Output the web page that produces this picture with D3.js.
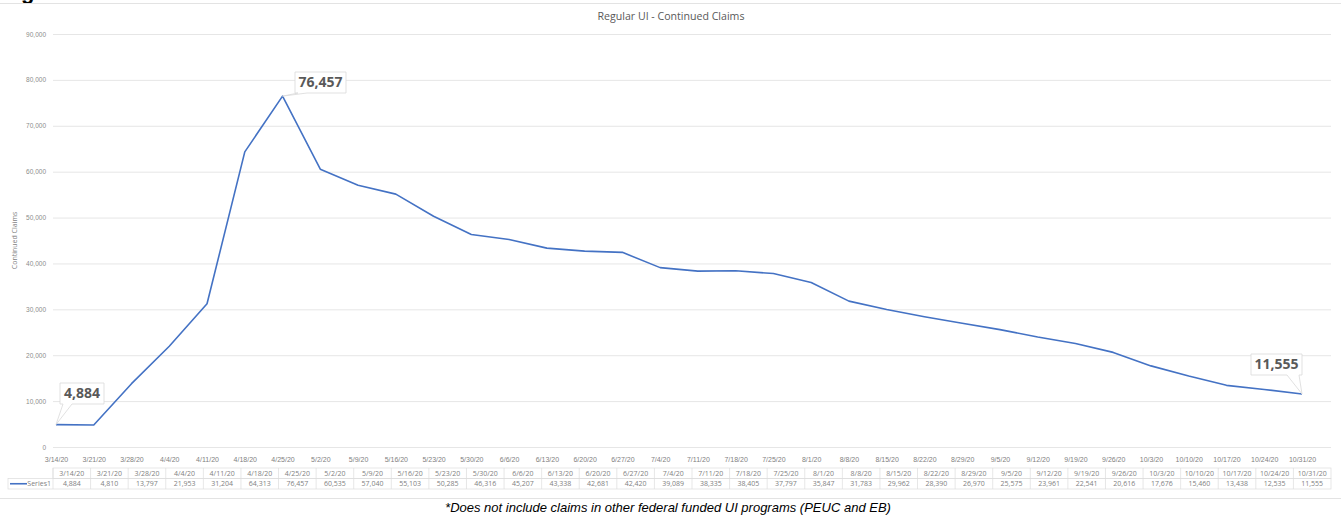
<!DOCTYPE html>
<html>
<head>
<meta charset="utf-8">
<style>
    body { margin: 0; background: #fff; }
    svg { display: block; font-family: "Open Sans", sans-serif; }
    .grid line { stroke: #e6e6e6; stroke-width: 1; }
    .grid .domain { display: none; }
    .y text { font-size: 6.5px; fill: #8c8c8c; }
    .tbl text { font-size: 7px; fill: #7f7f7f; }
</style>
</head>
<body>
<svg width="1341" height="520"></svg>
<script src="https://d3js.org/d3.v7.min.js"></script>
<script>

    // weekly dates and continued claims
    let weeks = ["3/14/20", "3/21/20", "3/28/20", "4/4/20", "4/11/20", "4/18/20", "4/25/20", "5/2/20",
        "5/9/20", "5/16/20", "5/23/20", "5/30/20", "6/6/20", "6/13/20", "6/20/20", "6/27/20",
        "7/4/20", "7/11/20", "7/18/20", "7/25/20", "8/1/20", "8/8/20", "8/15/20", "8/22/20",
        "8/29/20", "9/5/20", "9/12/20", "9/19/20", "9/26/20", "10/3/20", "10/10/20", "10/17/20",
        "10/24/20", "10/31/20"]

    let claims = [4884, 4810, 13797, 21953, 31204, 64313, 76457, 60535,
        57040, 55103, 50285, 46316, 45207, 43338, 42681, 42420,
        39089, 38335, 38405, 37797, 35847, 31783, 29962, 28390,
        26970, 25575, 23961, 22541, 20616, 17676, 15460, 13438,
        12535, 11555]

    let yTicks = [0, 10000, 20000, 30000, 40000, 50000, 60000, 70000, 80000, 90000]

    // callouts: index into the series
    let callouts = [0, 6, 33]

    let data = weeks.map((w, i) => ({ week: w, value: claims[i] }))

    let svg = d3.select("svg")
    let fmt = d3.format(",")

    // cut-off heading glyph at the very top
    svg.append("text")
        .attr("x", 21)
        .attr("y", -1)
        .style("font-family", "Liberation Sans, Arial, sans-serif")
        .style("font-weight", "bold")
        .style("font-size", "22px")
        .style("fill", "#000")
        .text("g")

    // chart frame lines
    svg.append("line").attr("x1", 0).attr("x2", 1341).attr("y1", 3.5).attr("y2", 3.5)
        .style("stroke", "#e3e3e3")
    svg.append("line").attr("x1", 0).attr("x2", 1341).attr("y1", 498.5).attr("y2", 498.5)
        .style("stroke", "#e3e3e3")

    let x = d3.scalePoint()
        .domain(weeks)
        .range([56, 1302])

    let band = d3.scaleBand()
        .domain(weeks)
        .range([53, 1331])

    let y = d3.scaleLinear()
        .domain([0, 90000])
        .range([447, 34])

    // title
    svg.append("text")
        .attr("x", 671)
        .attr("y", 20)
        .attr("text-anchor", "middle")
        .style("font-size", "10.6px")
        .style("fill", "#595959")
        .text("Regular UI - Continued Claims")

    // gridlines + y labels
    let yAxis = d3.axisLeft(y)
        .tickValues(yTicks)
        .tickSize(-(1331 - 53))
        .tickPadding(7)
        .tickFormat(fmt)

    svg.append("g")
        .attr("class", "grid y")
        .attr("transform", "translate(53,0)")
        .call(yAxis)

    svg.select(".y").selectAll(".tick line").style("stroke", "#e6e6e6")

    svg.append("text")
        .attr("transform", "translate(17," + y(45000) + ") rotate(-90)")
        .attr("text-anchor", "middle")
        .style("font-size", "7px")
        .style("fill", "#7f7f7f")
        .text("Continued Claims")

    // x labels under the axis
    let xAxis = d3.axisBottom(x).tickSize(0).tickPadding(7)
    let xg = svg.append("g")
        .attr("class", "tbl")
        .attr("transform", "translate(0,450)")
        .call(xAxis)
    xg.select(".domain").remove()

    // the line
    let line = d3.line()
        .x(d => x(d.week))
        .y(d => y(d.value))

    svg.append("path")
        .datum(data)
        .attr("d", line)
        .style("fill", "none")
        .style("stroke", "#4472C4")
        .style("stroke-width", 1.6)
        .style("stroke-linejoin", "round")

    // data table
    let tbl = svg.append("g").attr("class", "tbl")
    let rowTop = 468, rowH = 10.5

    tbl.append("rect")
        .attr("x", 53).attr("y", rowTop)
        .attr("width", 1331 - 53).attr("height", rowH)
        .style("fill", "none").style("stroke", "#dcdcdc").style("stroke-width", 0.7)
    tbl.append("rect")
        .attr("x", 8).attr("y", rowTop + rowH)
        .attr("width", 1331 - 8).attr("height", rowH)
        .style("fill", "none").style("stroke", "#dcdcdc").style("stroke-width", 0.7)
    tbl.append("line")
        .attr("x1", 53).attr("x2", 53)
        .attr("y1", rowTop).attr("y2", rowTop + 2 * rowH)
        .style("stroke", "#dcdcdc").style("stroke-width", 0.7)

    tbl.selectAll(".sep")
        .data(weeks.slice(1))
        .join("line")
        .attr("class", "sep")
        .attr("x1", d => band(d)).attr("x2", d => band(d))
        .attr("y1", rowTop).attr("y2", rowTop + 2 * rowH)
        .style("stroke", "#dcdcdc").style("stroke-width", 0.7)

    tbl.selectAll(".hd")
        .data(data)
        .join("text")
        .attr("class", "hd")
        .attr("x", d => band(d.week) + band.bandwidth() / 2)
        .attr("y", rowTop + 7.9)
        .attr("text-anchor", "middle")
        .text(d => d.week)

    tbl.selectAll(".vl")
        .data(data)
        .join("text")
        .attr("class", "vl")
        .attr("x", d => band(d.week) + band.bandwidth() / 2)
        .attr("y", rowTop + rowH + 7.9)
        .attr("text-anchor", "middle")
        .text(d => fmt(d.value))

    // legend key in the table
    tbl.append("line")
        .attr("x1", 10).attr("x2", 27)
        .attr("y1", rowTop + rowH * 1.5).attr("y2", rowTop + rowH * 1.5)
        .style("stroke", "#4472C4").style("stroke-width", 1.6)
    tbl.append("text")
        .attr("x", 51)
        .attr("y", rowTop + rowH + 7.9)
        .attr("text-anchor", "end")
        .text("Series1")

    // callout boxes
    let boxes = [
        { i: callouts[0], bx: 60, by: 383, side: "left" },
        { i: callouts[1], bx: 295, by: 72, side: "left" },
        { i: callouts[2], bx: 1251, by: 354, side: "right" }
    ]
    let bw = 51, bh = 21

    boxes.forEach(b => {
        let d = data[b.i]
        let px = x(d.week), py = y(d.value)
        let w = b.i == 0 ? 44 : bw
        let g = svg.append("g")
        let a = b.side == "left" ? b.bx + 3 : b.bx + w - 15
        let c = b.side == "left" ? b.bx + 12 : b.bx + w - 3
        g.append("path")
            .attr("d", `M${b.bx},${b.by} H${b.bx + w} V${b.by + bh} H${c} L${px},${py} L${a},${b.by + bh} H${b.bx} Z`)
            .style("fill", "#fff")
            .style("stroke", "#d9d9d9")
            .style("stroke-width", 0.8)
        g.append("text")
            .attr("x", b.bx + w / 2)
            .attr("y", b.by + 15)
            .attr("text-anchor", "middle")
            .style("font-size", "14px")
            .style("font-weight", "bold")
            .style("fill", "#595959")
            .text(fmt(d.value))
    })

    // footnote
    svg.append("text")
        .attr("x", 668)
        .attr("y", 512)
        .attr("text-anchor", "middle")
        .style("font-family", "Liberation Sans, Arial, sans-serif")
        .style("font-style", "italic")
        .style("font-size", "13px")
        .style("fill", "#000")
        .text("*Does not include claims in other federal funded UI programs (PEUC and EB)")

</script>
</body>
</html>
